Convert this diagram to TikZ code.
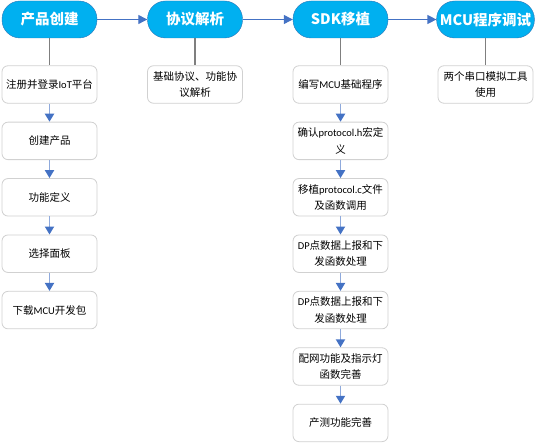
\documentclass[tikz,border=0pt]{standalone}
\usepackage{fontspec}
\newfontfamily\cjk{Noto Sans CJK SC}
\newfontfamily\latfont{Carlito}
\newcommand\lat[1]{{\latfont #1}}
\usepackage{tikz}
\usetikzlibrary{arrows.meta}
\definecolor{pillblue}{HTML}{00B0F0}
\definecolor{pilledge}{HTML}{2E75B6}
\definecolor{headblue}{HTML}{4472C4}
\definecolor{shaftblue}{HTML}{8FAADC}
\definecolor{linkgray}{HTML}{7F7F7F}
\tikzset{
    pill/.style={draw=pilledge, fill=pillblue, rounded corners=18pt, minimum width=95pt, minimum height=37pt, text=white, font=\cjk\bfseries\fontsize{14.5}{17}\selectfont},
    stepbox/.style={draw=black!18, fill=white, rounded corners=6pt, line width=0.8pt, minimum width=95pt, minimum height=37.5pt, inner xsep=2pt, align=center, font=\cjk\fontsize{10.5}{16.5}\selectfont},
    harrow/.style={draw=headblue, line width=1.2pt, -{Triangle[length=9pt, width=9pt, fill=headblue]}},
    varrow/.style={draw=shaftblue, line width=1.8pt, -{Triangle[length=8pt, width=9pt, fill=headblue, color=headblue]}},
    link/.style={draw=linkgray, line width=1.6pt}
}

\begin{document}
\begin{tikzpicture}[x=1pt, y=1pt, node distance=56.4pt]
\useasboundingbox (0,0) rectangle (535,-443);
% stages
\node[pill] (prod) at (49.5,-19.5) {产品创建};
\node[pill] (proto) at (195,-19.5) {协议解析};
\node[pill] (sdk) at (340.5,-19.5) {SDK移植};
\node[pill] (debug) at (485.5,-19.5) {MCU程序调试};
\draw[harrow] (prod) -- (proto);
\draw[harrow] (proto) -- (sdk);
\draw[harrow] (sdk) -- (debug);
% product steps
\node[stepbox, below of=prod, node distance=65pt] (reg) {注册并登录\lat{IoT}平台};
\node[stepbox, below of=reg] (mkprod) {创建产品};
\node[stepbox, below of=mkprod] (funcdef) {功能定义};
\node[stepbox, below of=funcdef] (panel) {选择面板};
\node[stepbox, below of=panel] (dlpack) {下载\lat{MCU}开发包};
\draw[link] (prod) -- (reg);
\draw[varrow] (reg) -- (mkprod);
\draw[varrow] (mkprod) -- (funcdef);
\draw[varrow] (funcdef) -- (panel);
\draw[varrow] (panel) -- (dlpack);
% protocol
\node[stepbox, below of=proto, node distance=65pt] (parse) {基础协议、功能协\\议解析};
\draw[link] (proto) -- (parse);
% sdk steps
\node[stepbox, below of=sdk, node distance=65pt] (basic) {编写\lat{MCU}基础程序};
\node[stepbox, below of=basic] (macro) {确认\lat{protocol.h}宏定\\义};
\node[stepbox, below of=macro] (port) {移植\lat{protocol.c}文件\\及函数调用};
\node[stepbox, below of=port] (dpa) {\lat{DP}点数据上报和下\\发函数处理};
\node[stepbox, below of=dpa] (dpb) {\lat{DP}点数据上报和下\\发函数处理};
\node[stepbox, below of=dpb] (netled) {配网功能及指示灯\\函数完善};
\node[stepbox, below of=netled] (prodtest) {产测功能完善};
\draw[link] (sdk) -- (basic);
\draw[varrow] (basic) -- (macro);
\draw[varrow] (macro) -- (port);
\draw[varrow] (port) -- (dpa);
\draw[varrow] (dpa) -- (dpb);
\draw[varrow] (dpb) -- (netled);
\draw[varrow] (netled) -- (prodtest);
% debug
\node[stepbox, below of=debug, node distance=65pt] (serial) {两个串口模拟工具\\使用};
\draw[link] (debug) -- (serial);
\end{tikzpicture}
\end{document}
